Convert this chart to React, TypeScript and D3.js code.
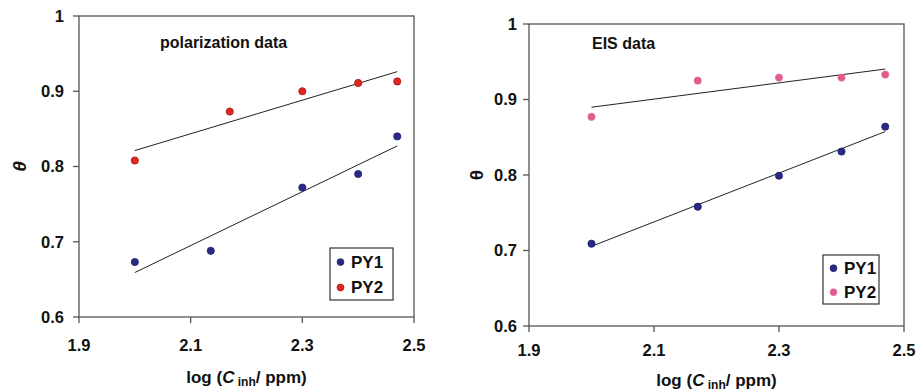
import React from "react";
import * as d3 from "d3";

const xTicks = [1.9, 2.1, 2.3, 2.5];
const yTicks = [0.6, 0.7, 0.8, 0.9, 1];
const tickLabelsX = ["1.9", "2.1", "2.3", "2.5"];
const tickLabelsY = ["0.6", "0.7", "0.8", "0.9", "1"];
const seriesNames = ["PY1", "PY2"];

const polX1 = [2.0, 2.136, 2.3, 2.4, 2.47];
const polY1 = [0.673, 0.688, 0.772, 0.79, 0.84];
const polX2 = [2.0, 2.17, 2.3, 2.4, 2.47];
const polY2 = [0.808, 0.873, 0.9, 0.911, 0.913];

const eisX1 = [2.0, 2.17, 2.3, 2.4, 2.47];
const eisY1 = [0.709, 0.758, 0.799, 0.831, 0.864];
const eisX2 = [2.0, 2.17, 2.3, 2.4, 2.47];
const eisY2 = [0.877, 0.925, 0.929, 0.929, 0.933];

type Series = { xs: number[]; ys: number[]; fill: string; stroke: string };

function fit(xs: number[], ys: number[]) {
  const mx = d3.mean(xs)!;
  const my = d3.mean(ys)!;
  let sxy = 0, sxx = 0;
  xs.forEach((x, i) => { sxy += (x - mx) * (ys[i] - my); sxx += (x - mx) ** 2; });
  const b = sxy / sxx;
  return (x: number) => my + b * (x - mx);
}

const font = "'Liberation Sans', Arial, sans-serif";

function Panel(props: {
  left: number; right: number; top: number; bottom: number;
  title: string; titleX: number; titleY: number;
  series: Series[];
  legend: { x: number; y: number; w: number; h: number };
  thetaX: number; thetaItalic: boolean;
  tickLabelY: number; axisTitleY: number; yLabelGap: number;
}) {
  const { left, right, top, bottom, series, legend } = props;
  const x = d3.scaleLinear().domain([1.9, 2.5]).range([left, right]);
  const y = d3.scaleLinear().domain([0.6, 1]).range([bottom, top]);
  const axisColor = "#555";
  return (
    <g fontFamily={font} fontWeight="bold">
      <rect x={left} y={top} width={right - left} height={bottom - top} fill="white" stroke={axisColor} strokeWidth={1.3} />
      {yTicks.map((t, i) => (
        <g key={"y" + i}>
          <line x1={left - 6} x2={left} y1={y(t)} y2={y(t)} stroke={axisColor} strokeWidth={1.3} />
          <text x={left - props.yLabelGap} y={y(t)} dy="0.35em" textAnchor="end" fontSize={16.5} fill="#111">{tickLabelsY[i]}</text>
        </g>
      ))}
      {xTicks.map((t, i) => (
        <g key={"x" + i}>
          <line x1={x(t)} x2={x(t)} y1={bottom} y2={bottom + 6} stroke={axisColor} strokeWidth={1.3} />
          <text x={x(t)} y={props.tickLabelY} dy="0.35em" textAnchor="middle" fontSize={16.5} fill="#111">{tickLabelsX[i]}</text>
        </g>
      ))}
      <text x={(left + right) / 2} y={props.axisTitleY} dy="0.35em" textAnchor="middle" fontSize={17} fill="#111">
        log (<tspan fontStyle="italic">C</tspan><tspan fontSize={12} dy="3"> inh</tspan><tspan dy="-3">/ ppm)</tspan>
      </text>
      <text transform={`translate(${props.thetaX},${(top + bottom) / 2}) rotate(-90)`} textAnchor="middle" dy="0.35em" fontSize={19} fontStyle={props.thetaItalic ? "italic" : "normal"} fill="#111">θ</text>
      <text x={props.titleX} y={props.titleY} dy="0.35em" fontSize={16} fill="#111">{props.title}</text>
      {series.map((s, si) => {
        const f = fit(s.xs, s.ys);
        const x0 = d3.min(s.xs)!, x1 = d3.max(s.xs)!;
        return (
          <g key={"s" + si}>
            <line x1={x(x0)} y1={y(f(x0))} x2={x(x1)} y2={y(f(x1))} stroke="#222" strokeWidth={1} />
            {s.xs.map((v, i) => (
              <circle key={i} cx={x(v)} cy={y(s.ys[i])} r={3.6} fill={s.fill} stroke={s.stroke} strokeWidth={0.8} />
            ))}
          </g>
        );
      })}
      <rect x={legend.x} y={legend.y} width={legend.w} height={legend.h} fill="white" stroke="#333" strokeWidth={1.2} />
      {series.map((s, si) => {
        const cy = legend.y + legend.h * (si === 0 ? 0.27 : 0.76);
        return (
          <g key={"l" + si}>
            <circle cx={legend.x + 10.5} cy={cy} r={3.4} fill={s.fill} stroke={s.stroke} strokeWidth={0.8} />
            <text x={legend.x + 21} y={cy} dy="0.35em" fontSize={17} fill="#111">{seriesNames[si]}</text>
          </g>
        );
      })}
    </g>
  );
}

export default function App() {
  const navy = { fill: "#2a2a86", stroke: "#1e1e6a" };
  return (
    <svg width={917} height={391} style={{ position: "absolute", left: 0, top: 0, background: "white" }}>
      <Panel
        left={79} right={414} top={16} bottom={317}
        title="polarization data" titleX={160} titleY={42}
        series={[
          { xs: polX1, ys: polY1, ...navy },
          { xs: polX2, ys: polY2, fill: "#e62420", stroke: "#9a1a14" },
        ]}
        legend={{ x: 330, y: 248, w: 63, h: 52 }}
        thetaX={19} thetaItalic={true}
        tickLabelY={345} axisTitleY={377} yLabelGap={15}
      />
      <Panel
        left={529} right={904} top={24} bottom={326}
        title="EIS data" titleX={592} titleY={43}
        series={[
          { xs: eisX1, ys: eisY1, ...navy },
          { xs: eisX2, ys: eisY2, fill: "#df5a96", stroke: "#e07088" },
        ]}
        legend={{ x: 823, y: 255, w: 56, h: 49 }}
        thetaX={476} thetaItalic={false}
        tickLabelY={350} axisTitleY={380} yLabelGap={12}
      />
    </svg>
  );
}
